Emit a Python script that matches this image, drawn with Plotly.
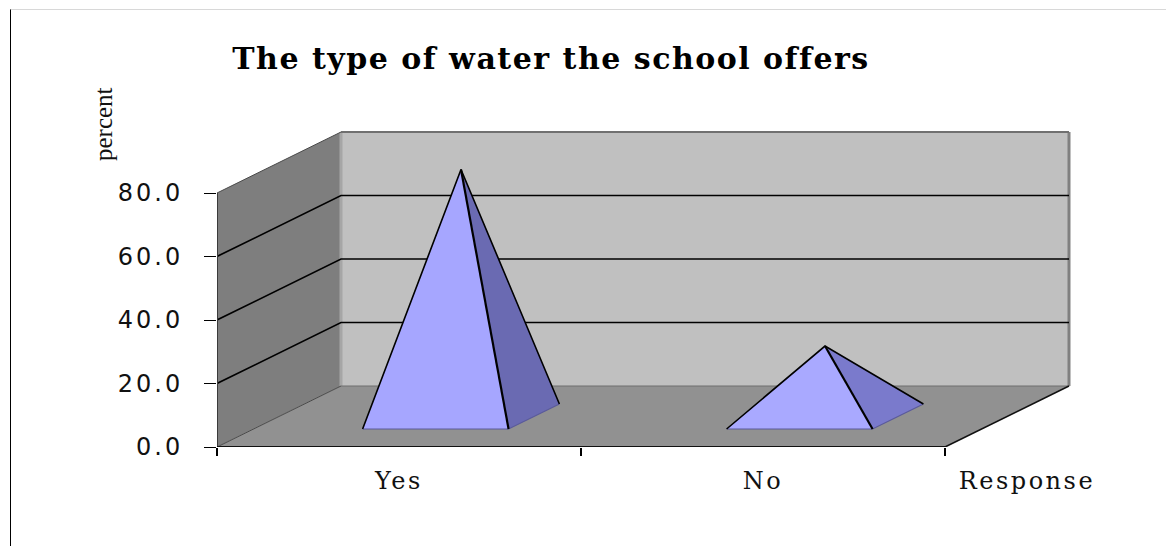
import plotly.graph_objects as go

title = "The type of water the school offers"
categories = ["Yes", "No"]
values = [77.8, 22.2]
y_ticks = [0, 20, 40, 60, 80]
y_tick_labels = ["0.0", "20.0", "40.0", "60.0", "80.0"]
x_title = "Response"
y_title = "percent"
front_colors = ["#A6A6FF", "#A9A9FF"]
side_colors = ["#6A6AB2", "#7A7ACC"]

# oblique projection of the depth axis, expressed in axis units
W, H = 1166, 546
L, B = 217, 99
px_x = 364.0
px_y = 254 / 80
DX, DY = 124 / px_x, 61 / px_y
n = len(categories)
y_max = y_ticks[-1]


def proj(cat, depth, val):
    return cat + depth * DX, val + depth * DY


def poly(points, fill=None, line=None, width=1, dash=None):
    xs = [p[0] for p in points]
    ys = [p[1] for p in points]
    if fill:
        xs.append(xs[0])
        ys.append(ys[0])
    return go.Scatter(
        x=xs, y=ys, mode="lines", fill="toself" if fill else None, fillcolor=fill,
        line=dict(color=line or "rgba(0,0,0,0)", width=width if line else 0, dash=dash),
        hoverinfo="skip", showlegend=False, cliponaxis=False,
    )


traces = [
    poly([proj(0, 0, 0), proj(0, 0, y_max), proj(0, 1, y_max), proj(0, 1, 0)], fill="#7E7E7E"),
    poly([proj(0, 0, 0), proj(n, 0, 0), proj(n, 1, 0), proj(0, 1, 0)], fill="#919191"),
    poly([proj(0, 1, 0), proj(n, 1, 0), proj(n, 1, y_max), proj(0, 1, y_max)], fill="#C0C0C0"),
    poly([proj(0, 1, 0), proj(0, 1, y_max)], line="#A6A6A6", width=3),
    poly([proj(n, 1, 0), proj(n, 1, y_max)], line="#808080", width=3),
    poly([proj(0, 1, y_max), proj(n, 1, y_max)], line="#707070", width=2),
    poly([proj(0, 1, 0), proj(n, 1, 0)], line="#6E6E6E", width=1),
    poly([proj(0, 0, y_max), proj(0, 1, y_max)], line="#4A4A4A", width=1),
    poly([proj(0, 0, 0), proj(0, 1, 0)], line="#4A4A4A", width=1),
]
for v in y_ticks[1:-1]:
    traces.append(poly([proj(0, 0, v), proj(0, 1, v), proj(n, 1, v)], line="#000000", width=1.6))
traces.append(poly([proj(0, 0, 0), proj(0, 0, y_max)], line="#3A3A3A", width=2))
traces.append(poly([proj(0, 0, 0), proj(n, 0, 0)], line="#111111", width=2))
traces.append(poly([proj(n, 0, 0), proj(n, 1, 0)], line="#111111", width=1.6))

half = 0.2005
z0, z1 = 0.295, 0.705
for i, val in enumerate(values):
    c = i + 0.5
    fl = proj(c - half, z0, 0)
    fr = proj(c + half, z0, 0)
    br = proj(c + half, z1, 0)
    apex = proj(c, 0.5, val)
    traces.append(poly([fr, br, apex], fill=side_colors[i]))
    traces.append(poly([fl, fr, apex], fill=front_colors[i]))
    traces.append(poly([fl, fr, br], line="#5A5A9A", width=1.2))
    traces.append(poly([fl, apex, br], line="#000000", width=1.6))
    traces.append(poly([apex, fr], line="#000000", width=2.2))

fig = go.Figure(traces)
fig.update_layout(
    width=W, height=H,
    margin=dict(l=L, r=0, t=0, b=B, pad=0),
    paper_bgcolor="#FFFFFF", plot_bgcolor="#FFFFFF",
    showlegend=False,
    title=dict(
        text=f"<b>{title}</b>", x=551 / W, xref="container", xanchor="center",
        y=1 - 58 / H, yref="container", yanchor="middle",
        font=dict(family="DejaVu Serif", size=30, color="#000000"),
    ),
    xaxis=dict(
        range=[0, (W - L) / px_x], showgrid=False, zeroline=False, showline=False,
        tickmode="array",
        tickvals=[0.5, 1.5, 2.225],
        ticktext=categories + [x_title],
        ticks="", tickangle=0,
        ticklabelstandoff=17,
        tickfont=dict(family="DejaVu Serif", size=24, color="#111111"),
        minor=dict(tickmode="array", tickvals=[0, 1, 2], ticks="outside", ticklen=8,
                   tickwidth=1.5, tickcolor="#000000", showgrid=False),
    ),
    yaxis=dict(
        range=[0, (H - B) / px_y], showgrid=False, zeroline=False, showline=False,
        tickmode="array", tickvals=y_ticks, ticktext=y_tick_labels,
        ticks="outside", ticklen=12, tickwidth=1.3, tickcolor="#000000",
        ticklabelstandoff=16,
        tickfont=dict(family="DejaVu Sans", size=24, color="#111111"),
    ),
    annotations=[dict(
        text=y_title, textangle=-90, xref="paper", yref="paper",
        x=(104 - L) / (W - L), y=(H - B - 124) / (H - B),
        xanchor="center", yanchor="middle", showarrow=False,
        font=dict(family="Liberation Serif", size=25, color="#111111"),
    )],
    shapes=[
        dict(type="line", xref="paper", yref="paper",
             x0=(10 - L) / (W - L), x1=1, y0=(H - B - 9.5) / (H - B), y1=(H - B - 9.5) / (H - B),
             line=dict(color="#D8D8D8", width=1)),
        dict(type="line", xref="paper", yref="paper",
             x0=(10.5 - L) / (W - L), x1=(10.5 - L) / (W - L), y0=-B / (H - B), y1=(H - B - 9.5) / (H - B),
             line=dict(color="#000000", width=1)),
    ],
)
fig.write_html(
    "out.html",
    config={"displayModeBar": False},
    post_script=(
        "document.body.style.margin='0';document.body.style.overflow='hidden';"
        "document.querySelectorAll('.gtitle').forEach(t=>t.style.letterSpacing='1.5px');"
        "document.querySelectorAll('.xtick text').forEach(t=>t.style.letterSpacing='2.5px');"
        "document.querySelectorAll('.ytick text').forEach(t=>t.style.letterSpacing='3px');"
    ),
)
